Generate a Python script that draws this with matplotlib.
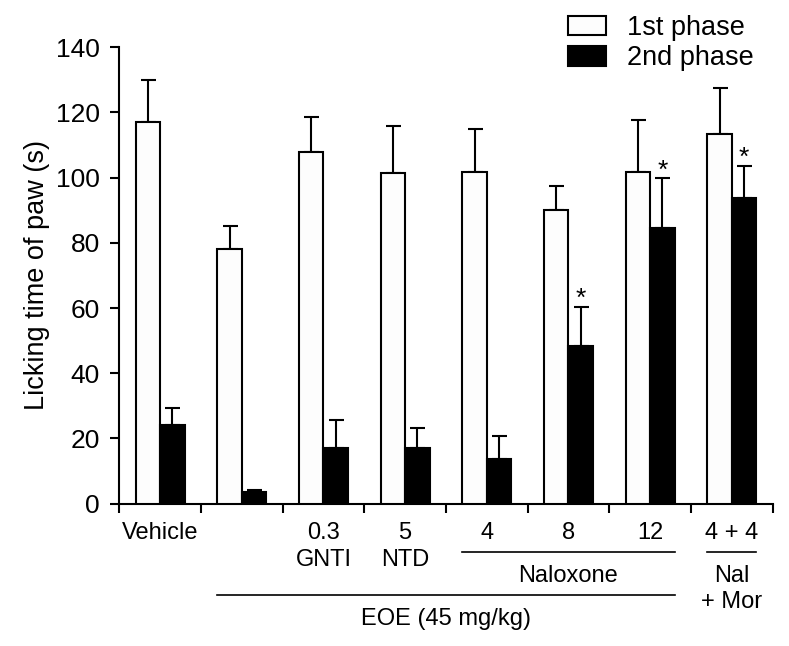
import matplotlib
matplotlib.use("Agg")
import matplotlib.pyplot as plt
import numpy as np

plt.rcParams['font.family'] = ['Liberation Sans', 'DejaVu Sans']

# ---- data ----
dose_labels = ["Vehicle", "", "0.3", "5", "4", "8", "12", "4 + 4"]
drug_labels = ["", "", "GNTI", "NTD", "", "", "", ""]
phase1 = [117.0, 78.1, 107.8, 101.4, 101.6, 90.2, 101.6, 113.3]
phase1_err = [13.0, 7.1, 10.7, 14.4, 13.3, 7.3, 16.1, 14.1]
phase2 = [24.1, 3.5, 17.2, 17.2, 13.8, 48.4, 84.5, 93.9]
phase2_err = [5.2, 0.7, 8.5, 5.9, 6.9, 12.0, 15.3, 9.8]
phase2_sig = [False, False, False, False, False, True, True, True]
series_names = ["1st phase", "2nd phase"]
yticks = [0, 20, 40, 60, 80, 100, 120, 140]

# ---- figure ----
fig = plt.figure(figsize=(7.89, 6.46), dpi=100)
ax = fig.add_axes([0.1512, 0.2203, 0.9793 - 0.1512, 0.9268 - 0.2203])

n = len(phase1)
idx = np.arange(n)
w = 0.3
x1 = idx + 0.35
x2 = idx + 0.65

lw = 1.5
ax.bar(x1, phase1, width=w, color='#fdfdfd', edgecolor='black', linewidth=lw,
       label=series_names[0], zorder=3)
ax.bar(x2, phase2, width=w, color='black', edgecolor='black', linewidth=lw,
       label=series_names[1], zorder=3)
ax.errorbar(x1, phase1, yerr=[np.zeros(n), phase1_err], fmt='none', ecolor='black',
            elinewidth=lw, capsize=5.4, capthick=lw, zorder=2)
ax.errorbar(x2, phase2, yerr=[np.zeros(n), phase2_err], fmt='none', ecolor='black',
            elinewidth=lw, capsize=5.4, capthick=lw, zorder=2)

for xi, v, e, s in zip(x2, phase2, phase2_err, phase2_sig):
    if s:
        ax.text(xi, v + e + 0.3, "*", ha='center', va='baseline', fontsize=19)

ax.set_xlim(0, n)
ax.set_ylim(0, 140)
ax.set_yticks(yticks)
ax.set_xticks(np.arange(n + 1))
ax.set_xticklabels([])
ax.tick_params(axis='both', direction='out', length=6.5, width=lw, labelsize=19)
ax.tick_params(axis='y', pad=7.5)
for side in ['top', 'right']:
    ax.spines[side].set_visible(False)
for side in ['left', 'bottom']:
    ax.spines[side].set_linewidth(lw)

ax.set_ylabel("Licking time of paw (s)", fontsize=19.5)

# category labels below axis
tr = ax.get_xaxis_transform()
def fy(py):
    return (503.7 - py) / 456.4

for i in range(n):
    if dose_labels[i]:
        ax.text(i + 0.5, fy(539), dose_labels[i], transform=tr, ha='center',
                va='baseline', fontsize=17)
    if drug_labels[i]:
        ax.text(i + 0.5, fy(565.7), drug_labels[i], transform=tr, ha='center',
                va='baseline', fontsize=17)

# group brackets
blw = 1.2
ax.plot([4.2, 6.8], [fy(551.7)] * 2, transform=tr, color='black', lw=blw, clip_on=False)
ax.text(5.5, fy(581.7), "Naloxone", transform=tr, ha='center', va='baseline', fontsize=17)
ax.plot([7.2, 7.8], [fy(552.3)] * 2, transform=tr, color='black', lw=blw, clip_on=False)
ax.text(7.5, fy(581.7), "Nal", transform=tr, ha='center', va='baseline', fontsize=17)
ax.text(7.5, fy(608.3), "+ Mor", transform=tr, ha='center', va='baseline', fontsize=17)
ax.plot([1.2, 6.8], [fy(594.7)] * 2, transform=tr, color='black', lw=blw, clip_on=False)
ax.text(4.0, fy(625), "EOE (45 mg/kg)", transform=tr, ha='center', va='baseline', fontsize=17)

leg = ax.legend(loc='upper left', bbox_to_anchor=(568 / 789, 1 - 15 / 646),
                bbox_transform=fig.transFigure, frameon=False, fontsize=19.5,
                handlelength=1.4, handleheight=0.75, handletextpad=0.78,
                labelspacing=0.15, borderpad=0, borderaxespad=0)

fig.savefig("out.png", dpi=100)
